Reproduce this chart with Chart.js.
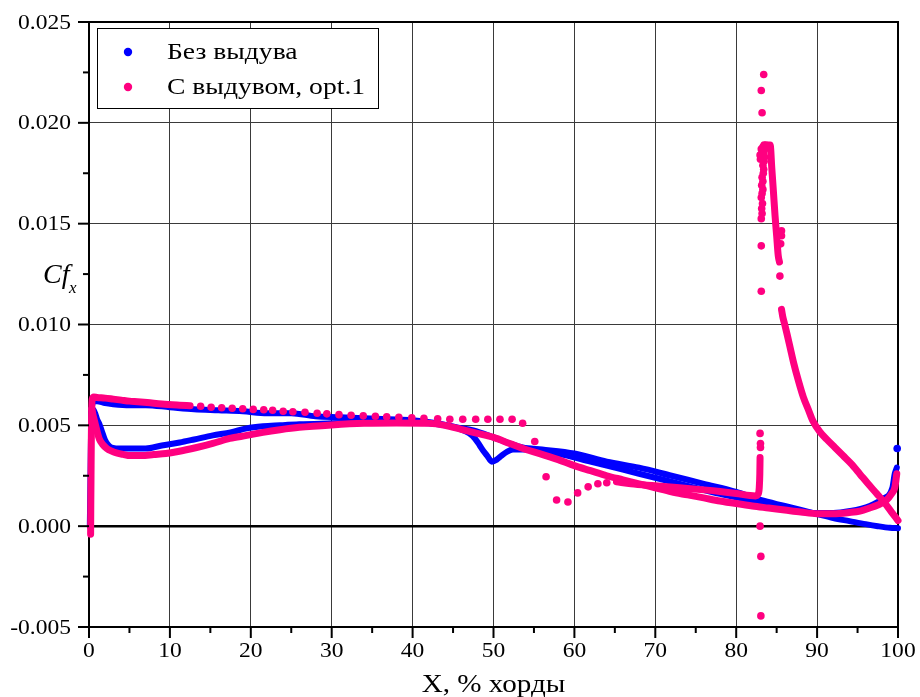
<!DOCTYPE html>
<html lang="ru">
<head>
<meta charset="utf-8">
<title>Cf x</title>
<script src="https://cdn.jsdelivr.net/npm/chart.js@4.4.1/dist/chart.umd.min.js"></script>
<style>
  html, body { margin: 0; padding: 0; background: #fff; }
</style>
</head>
<body>
<canvas id="cf" width="920" height="697"></canvas>
<script>
// Оси
const xMin = 0, xMax = 100, xStep = 10;
const yMin = -0.005, yMax = 0.025, yStep = 0.005;
const seriesNames = ['Без выдува', 'С выдувом, opt.1'];
const xTitle = 'X, % хорды';

// Без выдува: ветвь с высоким Cf у носка, в конце уходит ниже нуля
const blueAx = [0.1, 0.15, 0.2, 0.25, 0.3, 0.4, 0.6, 1, 2, 3, 5, 7, 10, 13, 16, 19, 22, 25, 28, 31, 34, 37, 40, 43, 45.5, 47.5, 50, 52, 53.6, 56, 60, 64, 68, 72, 76, 80, 83, 86, 88, 90, 92, 94, 96, 97.5, 99, 100];
const blueAy = [0.0, 0.0015, 0.003, 0.0045, 0.0055, 0.006, 0.0062, 0.0062, 0.0061, 0.00605, 0.006, 0.006, 0.0059, 0.0058, 0.00575, 0.0057, 0.0056, 0.0056, 0.00545, 0.0054, 0.00535, 0.0053, 0.00525, 0.0051, 0.0049, 0.00475, 0.0044, 0.0041, 0.0039, 0.0038, 0.0036, 0.0032, 0.0029, 0.0025, 0.0021, 0.0017, 0.0013, 0.001, 0.0008, 0.0006, 0.0004, 0.00025, 0.0001, 0.0, -0.00008, -0.0001];

// Без выдува: ветвь с провалом у носка и у 50%, в конце загибается вверх
const blueBx = [0.3, 0.5, 0.75, 1, 1.25, 1.6, 2, 2.8, 4, 5.5, 7, 9, 11.2, 13, 15.3, 17.5, 19.5, 21.5, 23.6, 26, 30, 34, 38, 42, 44, 46, 47, 47.7, 48.3, 48.8, 49.2, 49.8, 50.4, 51, 51.7, 52.4, 53.6, 55, 58, 62, 66, 70, 74, 78, 82, 85, 88, 90, 92, 94.1, 96.5, 98.1, 99.3, 99.6, 99.85];
const blueBy = [0.0058, 0.0058, 0.0056, 0.0053, 0.0051, 0.0047, 0.00425, 0.0039, 0.00385, 0.00385, 0.00385, 0.004, 0.00415, 0.0043, 0.0045, 0.00465, 0.00485, 0.00495, 0.005, 0.00505, 0.0051, 0.00515, 0.00518, 0.0051, 0.005, 0.0048, 0.0046, 0.00435, 0.004, 0.0037, 0.0035, 0.0032, 0.0033, 0.0035, 0.0037, 0.0038, 0.0038, 0.0038, 0.0036, 0.0032, 0.0028, 0.0024, 0.002, 0.0016, 0.00125, 0.00095, 0.00072, 0.00065, 0.00065, 0.00075, 0.001, 0.00135, 0.0019, 0.0026, 0.0029];

const blueDotX = [99.9];
const blueDotY = [0.00385];

// С выдувом: верхняя ветвь у носка (сплошная часть)
const pinkUpX = [0.2, 0.22, 0.25, 0.28, 0.32, 0.4, 0.6, 1, 2, 3, 4, 5, 6, 7.2, 9, 11.2, 12.5];
const pinkUpY = [-0.0004, 0.001, 0.0025, 0.004, 0.0055, 0.0063, 0.0064, 0.00638, 0.00635, 0.0063, 0.00625, 0.0062, 0.00617, 0.00613, 0.00606, 0.006, 0.00597];

// С выдувом: верхняя ветвь отдельными точками, с отрывом у 56-60%
const pinkUpDotX = [13.8, 15.1, 16.4, 17.7, 19.0, 20.3, 21.6, 22.7, 24.0, 25.2, 26.7, 28.2, 29.4, 30.9, 32.4, 33.9, 35.4, 36.8, 38.3, 39.9, 41.4, 43.1, 44.6, 46.2, 47.8, 49.3, 50.8, 52.3, 53.6, 55.1, 56.5, 57.8, 59.2, 60.4, 61.7, 62.9, 64.0];
const pinkUpDotY = [0.00595, 0.0059, 0.00587, 0.00585, 0.00582, 0.00579, 0.00577, 0.00575, 0.0057, 0.00567, 0.00565, 0.0056, 0.00557, 0.00553, 0.0055, 0.00547, 0.00545, 0.00542, 0.0054, 0.00537, 0.00535, 0.00533, 0.0053, 0.0053, 0.0053, 0.0053, 0.0053, 0.0053, 0.0051, 0.0042, 0.00245, 0.0013, 0.0012, 0.00165, 0.00195, 0.0021, 0.00215];

// С выдувом: продолжение верхней ветви до щели (крючок у 83%)
const pinkHookX = [65.2, 67, 70, 73, 76, 78, 80, 81.7, 82.4, 82.7, 82.85, 82.92, 82.95];
const pinkHookY = [0.0022, 0.0021, 0.002, 0.0019, 0.0018, 0.00172, 0.00162, 0.00152, 0.0015, 0.00158, 0.0019, 0.0026, 0.0034];

// С выдувом: нижняя ветвь
const pinkLowX = [0.35, 0.5, 0.75, 1.0, 1.3, 1.7, 2.2, 2.8, 3.5, 4.2, 5.1, 6.5, 8, 9.5, 11, 13.3, 15.3, 17.4, 19.5, 21.5, 23.6, 26, 30, 34, 38, 42, 44, 46, 48, 50, 52, 54, 55.7, 58, 60, 62, 64, 66, 68, 70, 72, 74, 76, 78, 80, 82, 84, 86, 88, 90, 92, 94, 95.3, 96.5, 97.5, 98.6, 99.2, 99.6, 99.85];
const pinkLowY = [0.0058, 0.0055, 0.0051, 0.0047, 0.0043, 0.00405, 0.00385, 0.00372, 0.00362, 0.00356, 0.0035, 0.0035, 0.00355, 0.0036, 0.0037, 0.0039, 0.0041, 0.00435, 0.0045, 0.00465, 0.00478, 0.0049, 0.00502, 0.0051, 0.00512, 0.0051, 0.005, 0.0048, 0.0046, 0.0044, 0.0041, 0.0038, 0.0036, 0.0033, 0.003, 0.00275, 0.0025, 0.0023, 0.0021, 0.0019, 0.0017, 0.00155, 0.0014, 0.00125, 0.00112, 0.001, 0.0009, 0.0008, 0.0007, 0.00062, 0.00062, 0.00068, 0.00075, 0.0009, 0.00105, 0.0013, 0.0016, 0.0019, 0.0026];

// С выдувом: отдельные точки у щели (выше и ниже крючка)
const pinkSlotX = [82.95, 83.0, 83.0, 82.95, 83.05, 83.05];
const pinkSlotY = [0.0046, 0.0041, 0.0039, 0.0, -0.0015, -0.00445];

// С выдувом: облако точек пика
const pinkPeakX = [83.4, 83.1, 83.2, 83.1, 83.1, 83.1, 83.2, 83.15, 83.25, 83.1, 83.2, 83.3, 83.15, 83.3, 83.2, 83.35, 83.4, 83.3, 83.45, 83.5, 83.4, 83.55, 83.6, 83.3, 83.1, 82.95, 83.0, 83.2, 83.45, 83.7, 83.9, 85.6, 85.6, 85.5, 85.4];
const pinkPeakY = [0.0224, 0.0216, 0.0205, 0.0139, 0.01165, 0.01525, 0.0155, 0.01575, 0.016, 0.0163, 0.0165, 0.0167, 0.0169, 0.0171, 0.0173, 0.0175, 0.0177, 0.0179, 0.0181, 0.0183, 0.0185, 0.0187, 0.0188, 0.0188, 0.0187, 0.0184, 0.0182, 0.0186, 0.0189, 0.0189, 0.0188, 0.01465, 0.0144, 0.014, 0.0124];

// С выдувом: крутой спад после пика
const pinkSteepX = [83.6, 84.0, 84.2, 84.4, 84.6, 84.8, 85.0, 85.2, 85.35];
const pinkSteepY = [0.0188, 0.0189, 0.0189, 0.01775, 0.0166, 0.0154, 0.0144, 0.0134, 0.0131];

// С выдувом: затухание за щелью до задней кромки
const pinkDecayX = [85.6, 85.75, 86.0, 86.3, 86.7, 87.1, 87.7, 88.3, 88.9, 89.5, 90.3, 91.2, 92.2, 93.2, 94.2, 95.3, 96.3, 97.4, 98.3, 99.2, 100];
const pinkDecayY = [0.01075, 0.0104, 0.01, 0.0095, 0.0088, 0.0081, 0.0072, 0.0064, 0.0058, 0.0052, 0.0047, 0.0043, 0.0039, 0.0035, 0.0031, 0.00258, 0.0021, 0.0016, 0.00118, 0.0007, 0.00028];

const BLUE = '#0000ff';
const PINK = '#ff0080';
const FONT = '"Liberation Serif", "Times New Roman", serif';

function pts(xs, ys) {
    return xs.map((x, i) => ({ x: x, y: ys[i] }));
}

function band(xs, ys, color, width, order) {
    return {
        data: pts(xs, ys), showLine: true, borderColor: color, borderWidth: width,
        borderCapStyle: 'round', borderJoinStyle: 'round', cubicInterpolationMode: 'monotone',
        pointRadius: 0, clip: false, order: order
    };
}

function dots(xs, ys, color, order) {
    return {
        data: pts(xs, ys), showLine: false, backgroundColor: color, borderWidth: 0,
        pointRadius: 3.8, pointHoverRadius: 3.8, clip: false, order: order
    };
}

// текст, растянутый по горизонтали (шрифт в оригинале шире)
function wideText(ctx, str, x, y, font, align, sx) {
    ctx.save();
    ctx.translate(x, y);
    ctx.scale(sx, 1);
    ctx.font = font;
    ctx.textAlign = align;
    ctx.fillText(str, 0, 0);
    ctx.restore();
}

// рамка, засечки, подписи делений, легенда и названия осей
const decor = {
    id: 'decor',
    beforeDatasetsDraw(chart) {
        const { ctx, chartArea: a } = chart;
        ctx.save();
        ctx.strokeStyle = '#000';
        ctx.lineWidth = 2;
        ctx.strokeRect(a.left, a.top, a.right - a.left, a.bottom - a.top);
        ctx.restore();
    },
    afterDraw(chart) {
        const { ctx, chartArea: a, scales } = chart;
        ctx.save();
        ctx.strokeStyle = '#000';
        ctx.fillStyle = '#000';
        ctx.lineWidth = 2;
        ctx.textBaseline = 'middle';

        const xv = scales.x.ticks.map(t => t.value);
        xv.forEach((v, i) => {
            const px = scales.x.getPixelForValue(v);
            ctx.beginPath(); ctx.moveTo(px, a.bottom); ctx.lineTo(px, a.bottom + 11); ctx.stroke();
            if (i < xv.length - 1) {
                const pm = scales.x.getPixelForValue((v + xv[i + 1]) / 2);
                ctx.beginPath(); ctx.moveTo(pm, a.bottom); ctx.lineTo(pm, a.bottom + 6); ctx.stroke();
            }
            wideText(ctx, String(Math.round(v)), px, 651, `21px ${FONT}`, 'center', 1.12);
        });
        const yv = scales.y.ticks.map(t => t.value);
        yv.forEach((v, i) => {
            const py = scales.y.getPixelForValue(v);
            ctx.beginPath(); ctx.moveTo(a.left - 11, py); ctx.lineTo(a.left, py); ctx.stroke();
            if (i < yv.length - 1) {
                const pm = scales.y.getPixelForValue((v + yv[i + 1]) / 2);
                ctx.beginPath(); ctx.moveTo(a.left - 6, pm); ctx.lineTo(a.left, pm); ctx.stroke();
            }
            wideText(ctx, v.toFixed(3), 71, py + 1, `21px ${FONT}`, 'right', 1.12);
        });

        // легенда
        ctx.fillStyle = '#fff';
        ctx.fillRect(97.5, 28.5, 281, 80);
        ctx.lineWidth = 1;
        ctx.strokeRect(97.5, 28.5, 281, 80);
        const legendColors = [BLUE, PINK];
        seriesNames.forEach((name, i) => {
            const cy = 52 + i * 35;
            ctx.fillStyle = legendColors[i];
            ctx.beginPath(); ctx.arc(128, cy, 4.2, 0, Math.PI * 2); ctx.fill();
            ctx.fillStyle = '#000';
            wideText(ctx, name, 167, cy + 1, `23px ${FONT}`, 'left', 1.2);
        });

        // названия осей
        ctx.textBaseline = 'alphabetic';
        wideText(ctx, xTitle, (a.left + a.right) / 2, 692, `26px ${FONT}`, 'center', 1.12);
        wideText(ctx, 'Cf', 43, 283, `italic 28px ${FONT}`, 'left', 1);
        wideText(ctx, 'x', 69, 293, `italic 17px ${FONT}`, 'left', 1);
        ctx.restore();
    }
};

Chart.defaults.font.family = FONT;
Chart.defaults.color = '#000';

new Chart(document.getElementById('cf'), {
    type: 'scatter',
    data: {
        datasets: [
            band(pinkUpX, pinkUpY, PINK, 7, 0),
            dots(pinkUpDotX, pinkUpDotY, PINK, 0),
            band(pinkHookX, pinkHookY, PINK, 7, 0),
            band(pinkLowX, pinkLowY, PINK, 7, 0),
            dots(pinkSlotX, pinkSlotY, PINK, 0),
            dots(pinkPeakX, pinkPeakY, PINK, 0),
            band(pinkSteepX, pinkSteepY, PINK, 7, 0),
            band(pinkDecayX, pinkDecayY, PINK, 7, 0),
            band(blueAx, blueAy, BLUE, 6, 1),
            band(blueBx, blueBy, BLUE, 6, 1),
            dots(blueDotX, blueDotY, BLUE, 1)
        ]
    },
    options: {
        responsive: false,
        animation: false,
        layout: { padding: { top: 22, right: 22, left: 0, bottom: 0 } },
        plugins: { legend: { display: false }, tooltip: { enabled: false } },
        scales: {
            x: {
                type: 'linear', min: xMin, max: xMax,
                border: { display: false },
                grid: { color: '#3a3a3a', lineWidth: 1, drawTicks: false },
                ticks: { stepSize: xStep, display: false },
                afterFit(s) { s.height = 70; }
            },
            y: {
                type: 'linear', min: yMin, max: yMax,
                border: { display: false },
                grid: {
                    drawTicks: false,
                    color: c => (c.tick && Math.abs(c.tick.value) < 1e-9) ? '#000' : '#3a3a3a',
                    lineWidth: c => (c.tick && Math.abs(c.tick.value) < 1e-9) ? 2.5 : 1
                },
                ticks: { stepSize: yStep, display: false },
                afterFit(s) { s.width = 89; }
            }
        }
    },
    plugins: [decor]
});
</script>
</body>
</html>
